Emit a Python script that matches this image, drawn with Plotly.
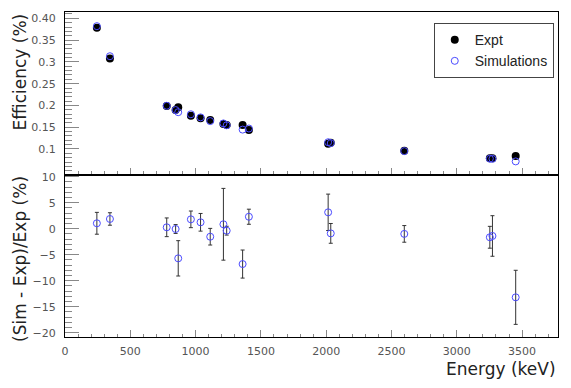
"""Efficiency and relative difference chart (Expt vs Simulations)"""

import plotly.graph_objects as go
from plotly.subplots import make_subplots

# ── data ─────────────────────────────────────────────
energy = [244, 344, 779, 847, 867, 964, 1038, 1112, 1213, 1238,
          1360, 1408, 2015, 2035, 2598, 3253, 3273, 3451]
eff_expt = [0.3785, 0.308, 0.1987, 0.1895, 0.1957, 0.1765, 0.1705, 0.1666, 0.1574, 0.155,
            0.155, 0.1437, 0.112, 0.1145, 0.0961, 0.0790, 0.0785, 0.0840]
eff_sim = [0.382, 0.313, 0.1992, 0.1894, 0.1845, 0.1797, 0.1726, 0.164, 0.1587, 0.1544,
           0.1445, 0.147, 0.1155, 0.1135, 0.0951, 0.0777, 0.0774, 0.0715]
rel_diff = [1.04, 1.87, 0.27, -0.06, -5.7, 1.8, 1.23, -1.54, 0.85, -0.38,
            -6.8, 2.3, 3.15, -0.9, -1.0, -1.65, -1.4, -13.2]
rel_err = [2.1, 1.2, 1.8, 0.85, 3.4, 1.6, 1.7, 1.6, 6.9, 0.85,
           2.7, 1.45, 3.5, 1.9, 1.6, 2.1, 3.9, 5.2]

eff_ticks = [0.1, 0.15, 0.2, 0.25, 0.3, 0.35, 0.4]
eff_ticktext = ["0.1", "0.15", "0.2", "0.25", "0.3", "0.35", "0.40"]

SIM_COLOR = "#4b4bff"
FONT = "DejaVu Sans"
TICK_FONT = dict(family=FONT, size=11, color="#555555")

fig = make_subplots(
    rows=2,
    cols=1,
    shared_xaxes=True,
    vertical_spacing=0,
    row_heights=[0.5015, 0.4985],
)

fig.add_trace(
    go.Scatter(
        x=energy, y=eff_expt, mode="markers", name="Expt",
        marker=dict(color="black", size=8, symbol="circle"),
    ),
    row=1, col=1,
)
fig.add_trace(
    go.Scatter(
        x=energy, y=eff_sim, mode="markers", name="Simulations",
        marker=dict(color=SIM_COLOR, size=7, symbol="circle-open", line=dict(width=1)),
    ),
    row=1, col=1,
)

fig.add_hline(y=0, line_color="#777777", line_width=1, row=2, col=1)

fig.add_trace(
    go.Scatter(
        x=energy, y=rel_diff, mode="markers", showlegend=False,
        marker=dict(color=SIM_COLOR, size=7, symbol="circle-open", line=dict(width=1)),
        error_y=dict(type="data", array=rel_err, color="#333333", thickness=1, width=2),
    ),
    row=2, col=1,
)

axis_common = dict(
    showline=True, linecolor="black", linewidth=1, mirror=True,
    showgrid=False, zeroline=False, ticks="inside", tickcolor="#888888",
    tickfont=TICK_FONT, automargin=False,
)

fig.update_xaxes(
    range=[0, 3775], dtick=500, ticklen=7,
    minor=dict(dtick=100, ticklen=3.5, ticks="inside", tickcolor="#888888"),
    **axis_common,
)
fig.update_xaxes(showticklabels=False, row=1, col=1)
fig.update_xaxes(ticklabelstandoff=4, row=2, col=1)

fig.update_yaxes(
    range=[0.0403, 0.4145], tickvals=eff_ticks, ticktext=eff_ticktext, ticklen=14,
    minor=dict(dtick=0.01, ticklen=7, ticks="inside", tickcolor="#888888"),
    ticklabelstandoff=6,
    row=1, col=1, **axis_common,
)
fig.update_yaxes(
    range=[-20.83, 10.33], dtick=5, ticklen=14,
    minor=dict(dtick=1, ticklen=7, ticks="inside", tickcolor="#888888"),
    ticklabelstandoff=6,
    row=2, col=1, **axis_common,
)

title_font = dict(family=FONT, size=17, color="#222222")
fig.add_annotation(
    text="Efficiency (%)", xref="paper", yref="paper", x=-0.0933, y=1.0,
    xanchor="center", yanchor="top", textangle=-90, showarrow=False, font=title_font,
)
fig.add_annotation(
    text="(Sim - Exp)/Exp (%)", xref="paper", yref="paper", x=-0.0913, y=0.24,
    xanchor="center", yanchor="middle", textangle=-90, showarrow=False, font=title_font,
)
fig.add_annotation(
    text="Energy (keV)", xref="paper", yref="paper", x=1.0, y=-0.098,
    xanchor="right", yanchor="middle", showarrow=False,
    font=dict(family=FONT, size=17, color="#222222"),
)

fig.update_layout(
    width=571,
    height=388,
    margin=dict(l=65, r=13, t=12, b=51),
    paper_bgcolor="white",
    plot_bgcolor="white",
    showlegend=True,
    legend=dict(
        x=0.748, y=0.966, xanchor="left", yanchor="top",
        bordercolor="#444444", borderwidth=1, bgcolor="white",
        font=dict(family="Liberation Sans", size=14, color="#222222"),
        itemwidth=30, tracegroupgap=0,
    ),
)

fig.write_html(
    "out.html",
    config={"displayModeBar": False},
    post_script="document.body.style.margin='0';",
)
